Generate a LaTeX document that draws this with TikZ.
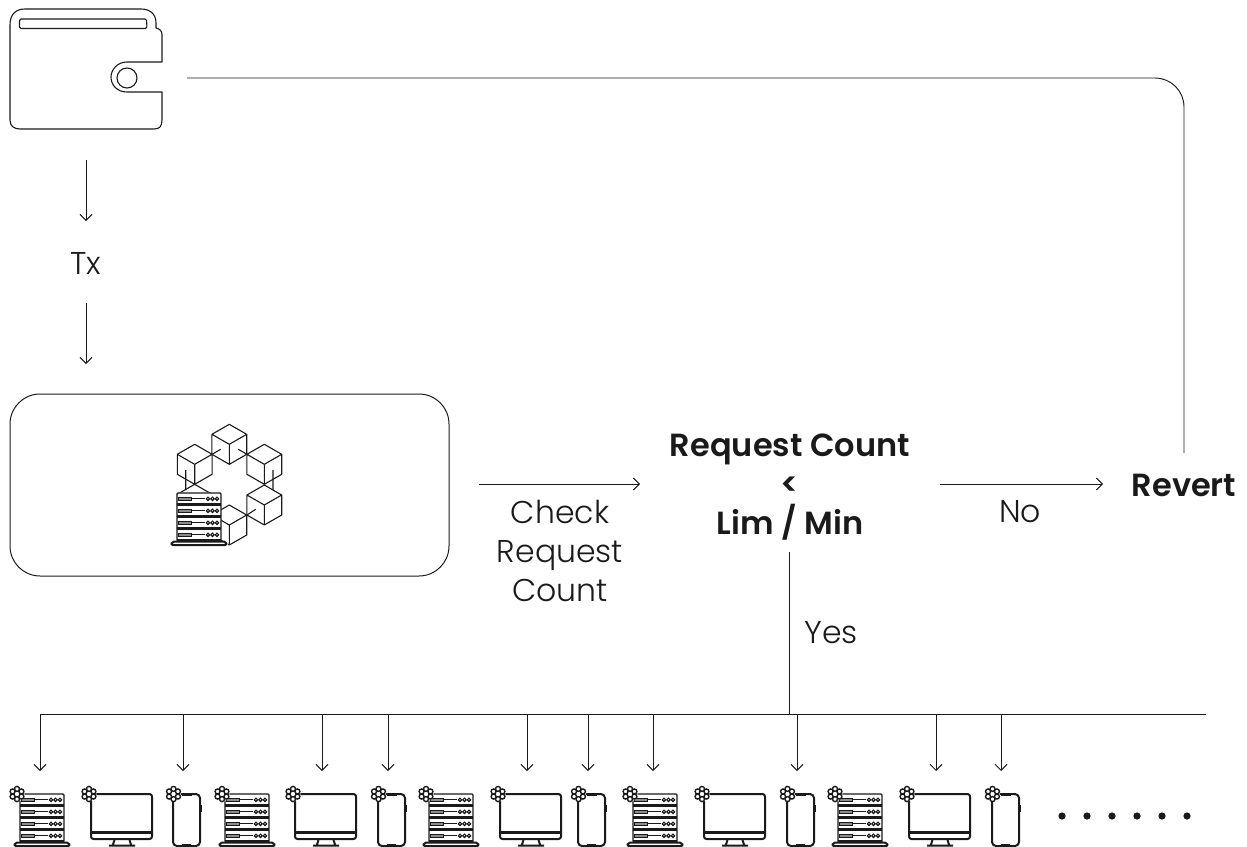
\documentclass[tikz,border=0pt]{standalone}
\usepackage{fontspec}
\setmainfont{Poppins}[UprightFont=* Light,BoldFont=* SemiBold]
\usetikzlibrary{arrows.meta}
\definecolor{ink}{HTML}{1A1A1A}
\tikzset{
  conn/.style={draw=ink,line width=.95pt},
  arr/.style={conn,-{Straight Barb[length=6pt,width=12pt,line width=.95pt]}},
  lbl/.style={font=\fontsize{31.5}{39}\selectfont,text=ink,inner sep=0pt,align=center},
  blbl/.style={font=\fontsize{32}{39}\selectfont\bfseries,text=ink,inner sep=0pt,align=center},
  icon/.style={draw=ink,line width=1.1pt,line join=round},
  heavy/.style={draw=ink,line width=2pt,line join=round},
}
% cube: hexagon and inner Y
\newcommand\cubeat[2]{%
  \draw[icon,shift={(#1,#2)}] (0,-20) -- (17.4,-10) -- (17.4,10) -- (0,20) -- (-17.4,10) -- (-17.4,-10) -- cycle
    (-17.4,-10) -- (0,0) -- (17.4,-10) (0,0) -- (0,20);}
% rack with four units
\newcommand\rackat[2]{%
  \begin{scope}[shift={(#1,#2)}]
    \fill[white] (-7,48) rectangle (51,54) (0,-.5) rectangle (44,48);
    \draw[heavy,rounded corners=2pt] (-5,48.5) -- (49,48.5) -- (50,52) -- (-6,52) -- cycle;
    \draw[icon,line width=1.4pt,rounded corners=1pt] (0,0) rectangle (44,48);
    \foreach \u in {0,12,24,36}{
      \draw[draw=ink,line width=2.2pt] (0,\u+11.5) -- (44,\u+11.5);
      \draw[draw=ink,line width=1pt,fill=black!45] (1.5,\u+4.5) rectangle (14,\u+7);
      \draw[draw=ink,line width=1.3pt] (14,\u+5.8) -- (28,\u+5.8);
      \foreach \c in {31,35.5,40}{\draw[draw=ink,line width=1.1pt] (\c,\u+5.8) circle (1.7);}
    }
  \end{scope}}
% small ring of circles
\newcommand\ringat[2]{%
  \begin{scope}[shift={(#1,#2)}]
    \fill[white] (0,0) circle (7.5);
    \foreach \a in {30,90,...,330}{\draw[draw=ink,line width=1.4pt,fill=white] (\a:5.1) circle (2.5);}
  \end{scope}}
\newcommand\serverat[1]{\rackat{#1}{794}\ringat{#1-3}{794}}
\newcommand\monitorat[1]{%
  \begin{scope}[shift={(#1,794)}]
    \draw[heavy] (23.5,46) -- (21.5,52) (38.5,46) -- (40.5,52) (18,51.5) -- (44,51.5);
    \draw[heavy,rounded corners=2.5pt] (0,0) rectangle (61,45);
    \fill[ink] (0,37) rectangle (61,40);
  \end{scope}\ringat{#1-2}{794}}
\newcommand\phoneat[1]{%
  \begin{scope}[shift={(#1,794)}]
    \draw[heavy,rounded corners=4pt] (0,0) rectangle (27,52);
    \draw[draw=ink,line width=2pt] (9,1.2) -- (19,1.2) (9,50.8) -- (18,50.8);
    \draw[draw=ink,line width=1.4pt] (27.8,11) -- (27.8,18);
  \end{scope}\ringat{#1+.5}{794}}
\begin{document}
\begin{tikzpicture}[x=1pt,y=-1pt]
  \clip (0,0) rectangle (1247,846);
  % wallet
  \draw[icon] (10,25) .. controls (10,14) and (16,9) .. (25,9) -- (141,9) .. controls (150,9) and (156,14) .. (156,23) -- (156,28)
    .. controls (160,29) and (162,31) .. (162,35) -- (162,62) -- (127,62) .. controls (117,62) and (111,70) .. (111,77)
    .. controls (111,85) and (117,92) .. (127,92) -- (162,92) -- (162,120) .. controls (162,126) and (160,129) .. (154,129)
    -- (20,129) .. controls (14,129) and (10,126) .. (10,120) -- cycle;
  \draw[icon,rounded corners=1.5pt] (19.5,28.5) -- (19.5,19) -- (146.5,19) -- (147,28.5) -- cycle;
  \draw[icon] (127,78) circle (10);
  \coordinate (walletright) at (187,78);
  \coordinate (walletdown) at (86,160);
  % chain box
  \node[draw=ink,line width=1pt,rounded corners=30pt,minimum width=439pt,minimum height=182pt,inner sep=0pt] (chain) at (229.5,485) {};
  \cubeat{229.3}{444.3}\cubeat{194.7}{464.3}\cubeat{264.3}{464.3}\cubeat{194.7}{504.3}\cubeat{264.3}{505}\cubeat{229.3}{525}
  \draw[icon] (212,454.3) -- (220.7,449.3) (247,454.3) -- (238.3,449.3) (185.7,470) -- (185.7,490) (273,470) -- (273,490) (247,515) -- (255.7,509.3);
  \rackat{177}{493}
  % labels
  \node[lbl] (tx) at (86,263) {Tx};
  \node[lbl] (check) at (560,551) {Check\\Request\\Count};
  \node[blbl] (req) at (790,487) {Request Count\\<\\Lim / Min};
  \node[blbl] (revert) at (1184,485) {Revert};
  \node[lbl] (no) at (1020,512) {No};
  \node[lbl] (yes) at (831,633) {Yes};
  % connectors
  \coordinate (txin) at (86,221); \coordinate (txout) at (86,303); \coordinate (chainin) at (86,364);
  \draw[arr] (walletdown) -- (txin);
  \draw[arr] (txout) -- (chainin);
  \coordinate (c1) at (479,484); \coordinate (c2) at (640,484);
  \draw[arr] (c1) -- (c2);
  \coordinate (n1) at (940,484); \coordinate (n2) at (1103,484);
  \draw[arr] (n1) -- (n2);
  \coordinate (revup) at (1184,453);
  \draw[conn,rounded corners=29pt] (walletright) -- (1184,78) -- (revup);
  \coordinate (stem) at (789,552); \coordinate (busjoin) at (789,714);
  \coordinate (busl) at (40,714); \coordinate (busr) at (1206,714);
  \draw[conn] (stem) -- (busjoin);
  \draw[conn] (busl) -- (busr);
  \foreach \x in {40,183,322,388,527,588,653,797,936,1001}{
    \coordinate (top\x) at (\x,714); \coordinate (end\x) at (\x,771);
    \draw[arr] (top\x) -- (end\x);
  }
  % devices
  \foreach \x in {20,225,429,633,838}{\serverat{\x}}
  \foreach \x in {91,295,500,704,909}{\monitorat{\x}}
  \foreach \x in {173,378,578,787,992}{\phoneat{\x}}
  \foreach \x in {1062,1087,1112,1137,1162,1187}{\fill[ink] (\x,816) circle (3.6);}
\end{tikzpicture}
\end{document}
